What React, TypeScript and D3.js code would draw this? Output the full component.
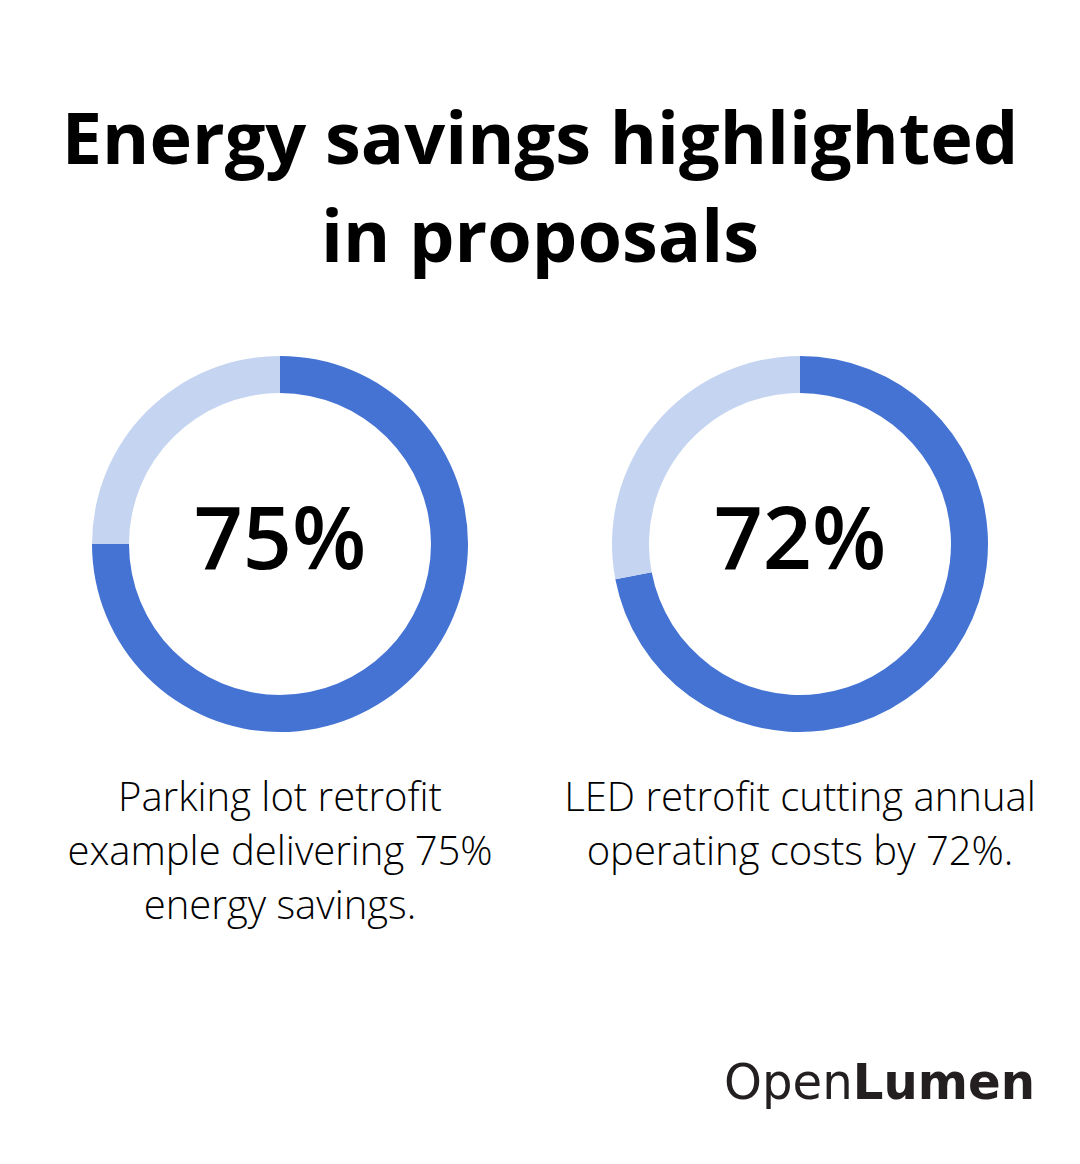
import React, { useEffect, useRef } from 'react';
import * as d3 from 'd3';

const titleLines = ['Energy savings highlighted', 'in proposals'];
const shares = [75, 72];
const captions = [
  ['Parking lot retrofit', 'example delivering 75%', 'energy savings.'],
  ['LED retrofit cutting annual', 'operating costs by 72%.'],
];
const colors = { filled: '#4473D3', rest: '#C5D5F1' };

const WIDTH = 1080;
const HEIGHT = 1164;

export default function App() {
  const svgRef = useRef<SVGSVGElement>(null);

  useEffect(() => {
    if (!svgRef.current) return;
    const svg = d3.select(svgRef.current);
    svg.selectAll('*').remove();

    svg.append('rect').attr('width', WIDTH).attr('height', HEIGHT).attr('fill', '#fff');

    // title
    const title = svg.append('text')
      .attr('text-anchor', 'middle')
      .attr('font-family', '"Open Sans", sans-serif')
      .attr('font-weight', 700)
      .attr('font-size', 72)
      .attr('fill', '#000');
    titleLines.forEach((line, i) => {
      title.append('tspan').attr('x', WIDTH / 2).attr('y', 164 + i * 98).text(line);
    });

    const centers = d3.scalePoint<number>().domain(shares.map((_, i) => i)).range([280, 800]);
    const cy = 544;
    const arc = d3.arc<d3.PieArcDatum<number>>().innerRadius(151).outerRadius(188);
    const pie = d3.pie<number>().sort(null).value(d => d);

    shares.forEach((share, i) => {
      const g = svg.append('g').attr('transform', `translate(${centers(i)},${cy})`);
      g.selectAll('path')
        .data(pie([share, 100 - share]))
        .enter()
        .append('path')
        .attr('d', arc)
        .attr('fill', (_, j) => (j === 0 ? colors.filled : colors.rest));

      g.append('text')
        .attr('text-anchor', 'middle')
        .attr('y', 25)
        .attr('font-family', '"Open Sans", sans-serif')
        .attr('font-weight', 600)
        .attr('font-size', 86)
        .attr('fill', '#000')
        .text(`${share}%`);

      const cap = svg.append('text')
        .attr('text-anchor', 'middle')
        .attr('font-family', '"Open Sans", sans-serif')
        .attr('font-weight', 300)
        .attr('font-size', 40)
        .attr('fill', '#000');
      captions[i].forEach((line, k) => {
        cap.append('tspan').attr('x', centers(i)!).attr('y', 811 + k * 54).text(line);
      });
    });

    // brand mark, fitted to its box width
    const logo = svg.append('text')
      .attr('text-anchor', 'end')
      .attr('font-family', '"DejaVu Sans", sans-serif')
      .attr('font-size', 50)
      .attr('fill', '#231F20');
    logo.append('tspan').attr('font-weight', 400).text('Open');
    logo.append('tspan').attr('font-weight', 700).text('Lumen');
    const w = (logo.node() as SVGTextElement).getComputedTextLength();
    const sx = w > 0 ? 311 / w : 1;
    logo.attr('transform', `translate(1035,1099) scale(${sx},1)`);
  }, []);

  return (
    <svg
      ref={svgRef}
      width={WIDTH}
      height={HEIGHT}
      style={{ position: 'absolute', left: 0, top: 0, display: 'block' }}
    />
  );
}
